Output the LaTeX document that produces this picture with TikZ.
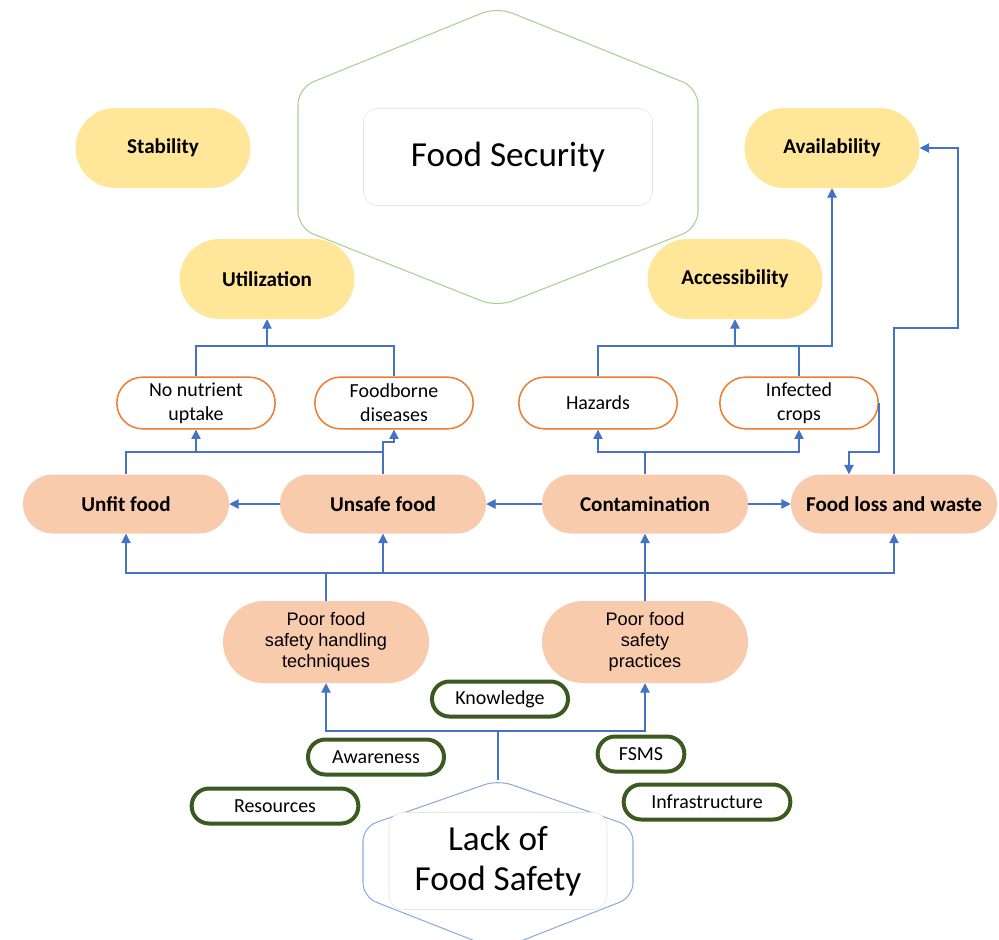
\documentclass[tikz,border=0pt]{standalone}
\usepackage{fontspec}
\setmainfont{Carlito}
\newfontfamily\arialf{Liberation Sans}
\usetikzlibrary{arrows.meta}
\definecolor{cyel}{HTML}{FFE699}
\definecolor{cpeach}{HTML}{F8CBAD}
\definecolor{corange}{HTML}{ED7D31}
\definecolor{cblue}{HTML}{4472C4}
\definecolor{cgreen}{HTML}{3A5A1F}
\definecolor{chexg}{HTML}{A9D18E}
\definecolor{chexb}{HTML}{8FAADC}
\begin{document}
\begin{tikzpicture}[x=0.03cm,y=-0.03cm,
  pill/.style={rectangle, inner sep=1pt, align=center, text=black},
  yelbox/.style={pill, fill=cyel, minimum width=5.25cm, minimum height=2.4cm, rounded corners=1.2cm, font=\fontsize{18}{21}\selectfont\bfseries},
  ornbox/.style={pill, draw=corange, line width=1.3pt, fill=white, minimum width=4.75cm, minimum height=1.55cm, rounded corners=0.77cm, font=\fontsize{17}{20.5}\selectfont},
  pchbox/.style={pill, fill=cpeach, minimum width=6.18cm, minimum height=1.77cm, rounded corners=0.88cm, font=\fontsize{18}{21}\selectfont\bfseries},
  poorbox/.style={pill, fill=cpeach, minimum width=6.18cm, minimum height=2.46cm, rounded corners=1.23cm, font=\arialf\fontsize{15.5}{18}\selectfont},
  grnbox/.style={pill, draw=cgreen, line width=3.4pt, fill=white, minimum height=1.05cm, rounded corners=0.52cm, font=\fontsize{17}{20}\selectfont},
  innerbox/.style={rectangle, draw=gray!20, line width=0.5pt, fill=white, rounded corners=12pt, align=center, font=\fontsize{30}{34}\selectfont},
  conn/.style={draw=cblue, line width=1pt},
  arr/.style={conn, -{Triangle[width=8pt,length=8pt]}}
]
\useasboundingbox (0,0) rectangle (999,939);

% Food Security hexagon
\draw[chexg, line width=0.9pt, rounded corners=14pt]
  (497,7) -- (698,88) -- (698,228) -- (497,307) -- (298,228) -- (298,88) -- cycle;
\node[innerbox, minimum width=8.67cm, minimum height=2.91cm] (fs) at (508,157) {Food Security};

% Lack of Food Safety hexagon
\draw[chexb, line width=0.9pt, rounded corners=12pt]
  (498,780) -- (633,827) -- (633,897) -- (498,950) -- (363,897) -- (363,827) -- cycle;
\coordinate (lfstop) at (498,780);
\node[innerbox, minimum width=6.54cm, minimum height=2.91cm] (lfs) at (498,861) {Lack of\\Food Safety};

% Pillars
\node[yelbox] (stab) at (163,148) {Stability};
\node[yelbox] (avail) at (832,148) {Availability};
\node[yelbox] (util) at (267,279) {Utilization};
\node[yelbox] (access) at (735,279) {Accessibility};

% Consequences
\node[ornbox] (nonut) at (196,403) {No nutrient\\uptake};
\node[ornbox] (fbd) at (394,403) {Foodborne\\diseases};
\node[ornbox] (haz) at (598,403) {Hazards};
\node[ornbox] (inf) at (799,403) {Infected\\crops};

% Middle row
\node[pchbox] (unfit) at (126,504) {Unfit food};
\node[pchbox] (unsafe) at (383,504) {Unsafe food};
\node[pchbox] (contam) at (645,504) {Contamination};
\node[pchbox] (flw) at (894,504) {Food loss and waste};

% Poor practices
\node[poorbox] (pfh) at (326,642) {Poor food\\safety handling\\techniques};
\node[poorbox] (pfp) at (645,642) {Poor food\\safety\\practices};

% Factors
\node[grnbox, minimum width=4.08cm] (know) at (500,699) {Knowledge};
\node[grnbox, minimum width=4.08cm] (aware) at (376,757) {Awareness};
\node[grnbox, minimum width=2.6cm] (fsms) at (641,754) {FSMS};
\node[grnbox, minimum width=5.0cm] (res) at (275,806) {Resources};
\node[grnbox, minimum width=5.0cm] (infra) at (707,802) {Infrastructure};

% Connectors
\coordinate (b1) at (498,731);
\draw[conn] (lfstop) -- (b1);
\draw[arr] (b1) -| (pfh.south);
\draw[arr] (b1) -| (pfp.south);

\coordinate (b2) at (326,573);
\draw[conn] (pfh.north) -- (b2);
\draw[arr] (b2) -| (unfit.south);
\draw[arr] (b2) -| (unsafe.south);
\draw[arr] (b2) -| (flw.south);
\draw[arr] (pfp.north) -- (contam.south);

\draw[arr] (contam.west) -- (unsafe.east);
\draw[arr] (unsafe.west) -- (unfit.east);
\draw[arr] (contam.east) -- (flw.west);

\coordinate (b3) at (383,452);
\coordinate (b3b) at (383,442);
\coordinate (b3c) at (196,452);
\draw[conn] (unfit.north) |- (b3);
\draw[arr] (unsafe.north) -- (b3b) -| (fbd.south);
\draw[arr] (b3c) -- (nonut.south);

\coordinate (b4) at (645,452);
\draw[conn] (contam.north) -- (b4);
\draw[arr] (b4) -| (haz.south);
\draw[arr] (b4) -| (inf.south);

\coordinate (b5) at (849,452);
\draw[arr] (inf.east) |- (b5) -- (b5 |- flw.north);

\coordinate (b6) at (958,328);
\draw[arr] (flw.north) |- (b6) |- (avail.east);

\coordinate (b7) at (267,346);
\draw[conn] (nonut.north) |- (b7) -| (fbd.north);
\draw[arr] (b7) -- (util.south);

\coordinate (b8) at (735,346);
\draw[conn] (haz.north) |- (b8);
\draw[arr] (b8) -| (avail.south);
\draw[arr] (b8) -- (access.south);
\draw[conn] (inf.north) -- (inf.north |- b8);
\end{tikzpicture}
\end{document}
